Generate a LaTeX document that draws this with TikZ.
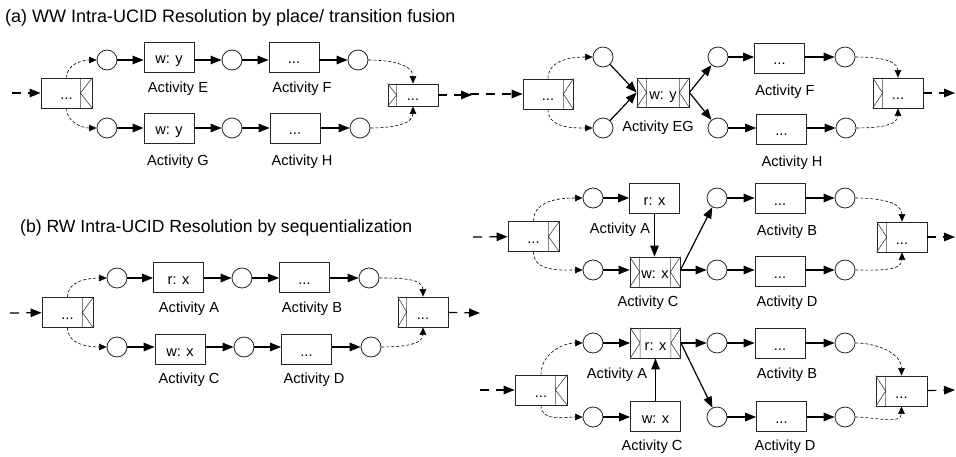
\documentclass[tikz,border=0pt]{standalone}
\usepackage{fontspec}
\setmainfont{Liberation Sans}
\usetikzlibrary{arrows.meta}

\tikzset{
  place/.style={circle, draw=black!85, line width=0.8pt, minimum size=20pt, inner sep=0pt, fill=white},
  act/.style={rectangle, draw=black!85, line width=0.8pt, minimum width=50pt, minimum height=30pt,
              inner sep=0pt, text height=14pt, text depth=0pt, font=\fontsize{14.6}{16}\selectfont},
  lbl/.style={font=\fontsize{14.6}{16}\selectfont, inner sep=0pt},
  ttl/.style={font=\fontsize{17.6}{20}\selectfont, inner sep=0pt, anchor=west},
  flow/.style={line width=1.2pt, -{Triangle[length=11pt,width=8.5pt]}},
  link/.style={line width=0.6pt, densely dashed, -{Triangle[length=7.5pt,width=6.5pt]}},
  io/.style={line width=1.2pt, dash pattern=on 9pt off 7pt, -{Triangle[length=11pt,width=8.5pt]}},
  mk/.style={line width=0.6pt, draw=black!75},
}

% split marker on the right end of a box: inner bar and a "<" chevron
\newcommand{\splitmk}[2]{%
  \draw[mk] ([xshift=-#2]#1.north east) -- ([xshift=-#2]#1.south east)
            (#1.north east) -- ([xshift=-#2]#1.east) -- (#1.south east);}
% join marker on the left end of a box: inner bar and a ">" chevron
\newcommand{\joinmk}[2]{%
  \draw[mk] ([xshift=#2]#1.north west) -- ([xshift=#2]#1.south west)
            (#1.north west) -- ([xshift=#2]#1.west) -- (#1.south west);}

\begin{document}
\begin{tikzpicture}[x=1pt, y=-1pt]
\useasboundingbox (0,0) rectangle (956,457);

% ---------------- titles ----------------
\node[ttl, font=\fontsize{18}{20}\selectfont] (ta) at (5,18) {(a) WW Intra-UCID Resolution by place/ transition fusion};
\node[ttl] (tb) at (20,228) {(b) RW Intra-UCID Resolution by sequentialization};

% ---------------- (a) before fusion ----------------
\coordinate (inA1) at (12,93);
\node[act, minimum width=51pt] (s1) at (66.5,93) {...};
\splitmk{s1}{12pt}
\node[place] (e1) at (107,60) {};
\node[act] (tE) at (169,57) {w: y};
\node[place] (e2) at (232,60) {};
\node[act] (tF) at (294,57) {...};
\node[place] (e3) at (358,60) {};
\node[place] (g1) at (107,128) {};
\node[act] (tG) at (169,128) {w: y};
\node[place] (g2) at (232,128) {};
\node[act] (tH) at (295,128) {...};
\node[place] (g3) at (360,128) {};
\node[act, minimum height=22pt, text height=11pt] (j1) at (413,95) {...};
\joinmk{j1}{9pt}
\coordinate (outA1) at (472,95);
\node[lbl] (lE) at (178,89) {Activity E};
\node[lbl] (lF) at (302,89) {Activity F};
\node[lbl] (lG) at (178,162) {Activity G};
\node[lbl] (lH) at (302,162) {Activity H};

\draw[io] (inA1) -- (s1);
\draw[link] (s1.north) to[out=90,in=180] (e1);
\draw[link] (s1.south) to[out=-90,in=180] (g1);
\draw[flow] (e1) -- (e1 -| tE.west);
\draw[flow] (tE.east |- e2) -- (e2);
\draw[flow] (e2) -- (e2 -| tF.west);
\draw[flow] (tF.east |- e3) -- (e3);
\draw[flow] (g1) -- (tG);
\draw[flow] (tG) -- (g2);
\draw[flow] (g2) -- (tH);
\draw[flow] (tH) -- (g3);
\draw[link] (e3) to[out=0,in=90] (j1.north);
\draw[link] (g3) to[out=0,in=-90] (j1.south);
\draw[io] (j1) -- (outA1);

% ---------------- (a) after fusion ----------------
\coordinate (inA2) at (470,94);
\node[act] (s2) at (548,94) {...};
\splitmk{s2}{10pt}
\node[place] (u1) at (603,57) {};
\node[place] (l1) at (603,128) {};
\node[act, minimum width=52pt, minimum height=29pt] (fEG) at (663,92.5) {w: y};
\joinmk{fEG}{10pt}
\splitmk{fEG}{10pt}
\node[lbl] (lEG) at (658,128) {Activity EG};
\node[place] (u2) at (718,57) {};
\node[act] (tF2) at (779.5,58) {...};
\node[place] (u3) at (845,57) {};
\node[place] (l2) at (718,128) {};
\node[act] (tH2) at (781.5,129) {...};
\node[place] (l3) at (846,128) {};
\node[act] (j2) at (898,93) {...};
\joinmk{j2}{10pt}
\coordinate (outA2) at (955,93);
\node[lbl] (lF2) at (785,92) {Activity F};
\node[lbl] (lH2) at (792,163) {Activity H};

\draw[io] (inA2) -- (s2);
\draw[link] (s2.north) to[out=90,in=180] (u1);
\draw[link] (s2.south) to[out=-90,in=180] (l1);
\draw[flow] (u1) -- (fEG.west);
\draw[flow] (l1) -- (fEG.west);
\draw[flow] (fEG.east) -- (u2);
\draw[flow] (fEG.east) -- (l2);
\draw[flow] (u2) -- (u2 -| tF2.west);
\draw[flow] (tF2.east |- u3) -- (u3);
\draw[flow] (l2) -- (l2 -| tH2.west);
\draw[flow] (tH2.east |- l3) -- (l3);
\draw[link] (u3) to[out=0,in=90] (j2.north);
\draw[link] (l3) to[out=0,in=-90] (j2.south);
\draw[io] (j2) -- (outA2);

% ---------------- (b) before sequentialization ----------------
\coordinate (inB1) at (10,313);
\node[act, minimum width=51pt] (s3) at (67.5,312.5) {...};
\splitmk{s3}{11pt}
\node[place] (a1) at (117,278) {};
\node[act] (tA) at (178.5,277) {r: x};
\node[place] (a2) at (242,278) {};
\node[act] (tB) at (304.5,277) {...};
\node[place] (a3) at (369,278) {};
\node[place] (c1) at (117,347) {};
\node[act] (tC) at (180,349) {w: x};
\node[place] (c2) at (244,347) {};
\node[act] (tD) at (306.5,349) {...};
\node[place] (c3) at (371,347) {};
\node[act] (j3) at (423,312) {...};
\joinmk{j3}{9pt}
\coordinate (outB1) at (480,313);
\node[lbl] (lA) at (189,309) {Activity A};
\node[lbl] (lB) at (312,309) {Activity B};
\node[lbl] (lC) at (189,380) {Activity C};
\node[lbl] (lD) at (314,380) {Activity D};

\draw[io] (inB1) -- (s3);
\draw[link] (s3.north) to[out=90,in=180] (a1);
\draw[link] (s3.south) to[out=-90,in=180] (c1);
\draw[flow] (a1) -- (a1 -| tA.west);
\draw[flow] (tA.east |- a2) -- (a2);
\draw[flow] (a2) -- (a2 -| tB.west);
\draw[flow] (tB.east |- a3) -- (a3);
\draw[flow] (c1) -- (c1 -| tC.west);
\draw[flow] (tC.east |- c2) -- (c2);
\draw[flow] (c2) -- (c2 -| tD.west);
\draw[flow] (tD.east |- c3) -- (c3);
\draw[link] (a3) to[out=0,in=90] (j3.north);
\draw[link] (c3) to[out=0,in=-90] (j3.south);
\draw[io] (j3) -- (outB1);

% ---------------- (b) read before write ----------------
\coordinate (inB2) at (473,237);
\node[act, minimum width=51pt] (s4) at (533.5,236.5) {...};
\splitmk{s4}{11pt}
\node[place] (m1) at (593,198) {};
\node[act] (rA2) at (654.5,198.5) {r: x};
\node[place] (n1) at (593,270) {};
\node[act] (wC2) at (655,272) {w: x};
\joinmk{wC2}{10pt}
\splitmk{wC2}{10pt}
\node[place] (m2) at (717,198) {};
\node[act] (tB2) at (780,198.5) {...};
\node[place] (m3) at (845,198) {};
\node[place] (n2) at (717,270) {};
\node[act] (tD2) at (780,271) {...};
\node[place] (n3) at (845,270) {};
\node[act] (j4) at (902,237) {...};
\joinmk{j4}{10pt}
\coordinate (outB2) at (955,237);
\node[lbl] (lA2) at (620,230) {Activity A};
\node[lbl] (lC2) at (648,303) {Activity C};
\node[lbl] (lB2) at (787,232) {Activity B};
\node[lbl] (lD2) at (787,303) {Activity D};

\draw[io] (inB2) -- (s4);
\draw[link] (s4.north) to[out=90,in=180] (m1);
\draw[link] (s4.south) to[out=-90,in=180] (n1);
\draw[flow] (m1) -- (m1 -| rA2.west);
\draw[flow] (rA2.south) -- (wC2.north -| rA2.south);
\draw[flow] (n1) -- (n1 -| wC2.west);
\draw[flow] (wC2.east |- n2) -- (n2);
\draw[flow] (wC2.east |- n2) -- (m2);
\draw[flow] (m2) -- (m2 -| tB2.west);
\draw[flow] (tB2.east |- m3) -- (m3);
\draw[flow] (n2) -- (n2 -| tD2.west);
\draw[flow] (tD2.east |- n3) -- (n3);
\draw[link] (m3) to[out=0,in=90] (j4.north);
\draw[link] (n3) to[out=0,in=-90] (j4.south);
\draw[io] (j4) -- (outB2);

% ---------------- (b) write before read ----------------
\coordinate (inB3) at (480,390);
\node[act, minimum width=52pt] (s5) at (541,390) {...};
\splitmk{s5}{12pt}
\node[place] (q1) at (593,343) {};
\node[act] (rA3) at (655.5,343) {r: x};
\joinmk{rA3}{10pt}
\splitmk{rA3}{10pt}
\node[place] (v1) at (593,417) {};
\node[act] (wC3) at (655.5,416) {w: x};
\node[place] (q2) at (717,343) {};
\node[act] (tB3) at (780,343) {...};
\node[place] (q3) at (845,343) {};
\node[place] (v2) at (717,417) {};
\node[act] (tD3) at (781.5,416) {...};
\node[place] (v3) at (845,417) {};
\node[act, minimum width=51pt] (j5) at (901.5,391) {...};
\joinmk{j5}{10pt}
\coordinate (outB3) at (955,390);
\node[lbl] (lA3) at (617,375) {Activity A};
\node[lbl] (lC3) at (652,447) {Activity C};
\node[lbl] (lB3) at (787,375) {Activity B};
\node[lbl] (lD3) at (785,447) {Activity D};

\draw[io] (inB3) -- (s5);
\draw[link] (s5.north) to[out=90,in=180] (q1);
\draw[link] (s5.south) to[out=-90,in=180] (v1);
\draw[flow] (q1) -- (rA3);
\draw[flow] (wC3.north) -- (rA3.south);
\draw[flow] (v1) -- (v1 -| wC3.west);
\draw[flow] (rA3.east) -- (q2);
\draw[flow] (rA3.east) -- (v2);
\draw[flow] (q2) -- (tB3);
\draw[flow] (tB3) -- (q3);
\draw[flow] (v2) -- (v2 -| tD3.west);
\draw[flow] (tD3.east |- v3) -- (v3);
\draw[link] (q3) to[out=0,in=90] (j5.north);
\draw[link] (v3) to[out=0,in=-90] (j5.south);
\draw[io] (j5) -- (outB3);
\end{tikzpicture}
\end{document}
